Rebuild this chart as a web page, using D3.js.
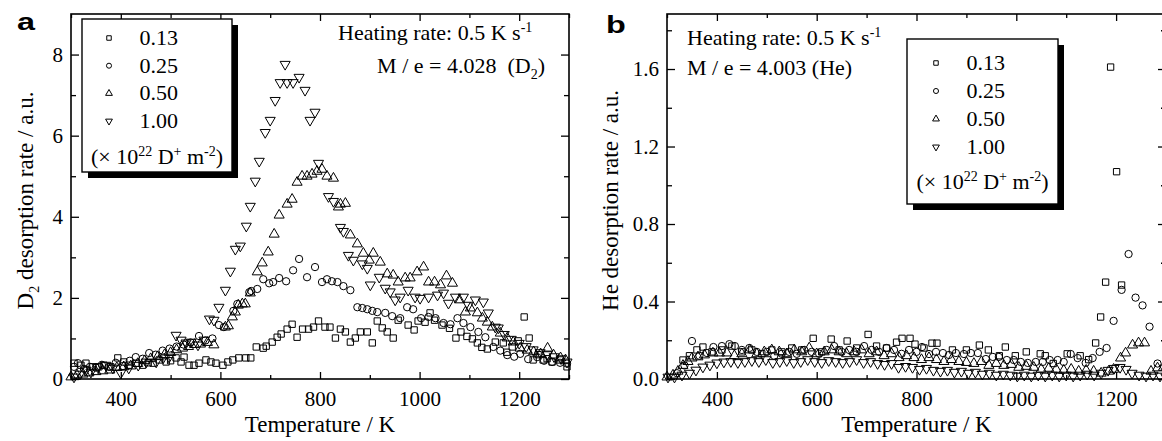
<!DOCTYPE html>
<html>
<head>
<meta charset="utf-8">
<script src="https://cdn.jsdelivr.net/npm/d3@7"></script>
<style>
body { margin: 0; background: #fff; }
svg text { font-family: "Liberation Serif", "Times New Roman", serif; fill: #000; }
.axis text { font-size: 21px; }
.axis line { stroke: #000; stroke-width: 1.3; }
</style>
</head>
<body>
<div id="chart"></div>
<script>
// ---- data, panel a : D2 (M/e = 4.028), [temperature K, rate a.u.]
var a013 = [[306,0.39],[320,0.34],[330,0.39],[344,0.3],[356,0.3],[366,0.34],[380,0.3],[394,0.52],[406,0.42],[416,0.34],[430,0.39],[444,0.34],[455,0.4],[465,0.39],[477,0.47],[491,0.42],[500,0.45],[511,0.52],[521,0.42],[527,0.54],[537,0.34],[547,0.34],[557,0.39],[571,0.47],[581,0.42],[591,0.39],[605,0.34],[615,0.42],[625,0.47],[637,0.52],[651,0.52],[661,0.52],[672,0.79],[686,0.76],[692,0.81],[704,0.91],[714,1.03],[722,1.11],[734,1.23],[744,1.35],[754,1.03],[765,1.23],[777,1.23],[787,1.28],[797,1.43],[810,1.28],[820,1.28],[831,1.01],[841,1.23],[851,1.16],[861,0.91],[871,1.01],[881,1.16],[895,1.16],[905,0.89],[915,1.43],[925,1.26],[935,1.16],[947,1.01],[957,1.45],[977,1.33],[989,1.21],[997,1.43],[1011,1.4],[1021,1.63],[1030,1.45],[1045,1.33],[1060,1.25],[1073,1.01],[1083,1.16],[1095,1.05],[1106,0.99],[1116,0.89],[1125,0.78],[1136,0.74],[1152,0.91],[1168,0.89],[1175,0.66],[1186,0.79],[1198,0.94],[1210,1.53],[1220,1.01],[1228,0.47],[1238,0.6],[1248,0.47],[1256,0.5],[1266,0.42],[1282,0.47],[1296,0.3]];
var a025 = [[306,0.3],[314,0.39],[326,0.25],[338,0.3],[350,0.28],[362,0.35],[376,0.3],[390,0.4],[404,0.32],[418,0.45],[430,0.54],[444,0.5],[457,0.64],[470,0.6],[484,0.7],[498,0.75],[512,0.8],[526,0.85],[540,0.9],[557,1.06],[570,0.95],[584,1.0],[597,1.33],[607,1.28],[626,1.68],[634,1.85],[658,2.14],[662,2.17],[674,2.22],[686,2.46],[698,2.36],[706,2.39],[718,2.49],[732,2.41],[746,2.68],[758,2.96],[774,2.51],[790,2.76],[804,2.39],[814,2.46],[824,2.41],[835,2.39],[847,2.29],[861,2.19],[875,1.77],[885,1.75],[895,1.72],[905,1.68],[915,1.65],[931,1.63],[945,1.55],[961,1.5],[975,1.77],[987,1.72],[1003,1.5],[1018,1.53],[1032,1.5],[1048,1.38],[1062,1.35],[1076,1.5],[1088,1.38],[1102,1.28],[1118,1.16],[1132,1.03],[1148,0.79],[1162,0.7],[1176,0.59],[1190,0.55],[1202,0.62],[1218,0.49],[1236,0.54],[1250,0.45],[1266,0.42],[1282,0.4],[1296,0.38]];
var a050 = [[300,0.05],[312,0.1],[324,0.12],[336,0.15],[350,0.18],[364,0.2],[378,0.22],[392,0.28],[406,0.3],[420,0.32],[434,0.38],[448,0.45],[460,0.5],[474,0.55],[488,0.6],[500,0.65],[512,0.72],[524,0.76],[536,0.8],[548,0.85],[560,0.86],[574,0.9],[587,0.84],[610,1.28],[616,1.31],[624,1.53],[630,1.65],[636,1.82],[644,1.85],[650,1.85],[660,2.12],[674,2.64],[684,2.86],[696,3.13],[708,3.57],[718,4.04],[734,4.31],[744,4.43],[754,4.85],[764,5.0],[774,5.0],[784,5.05],[794,5.12],[804,5.17],[814,5.0],[827,4.95],[837,4.24],[841,4.31],[851,4.33],[861,3.55],[875,3.33],[887,3.1],[899,2.93],[907,3.1],[921,2.88],[935,2.59],[947,2.56],[957,2.39],[971,2.49],[981,2.49],[995,2.64],[1008,2.76],[1018,2.39],[1030,2.39],[1042,2.32],[1054,2.54],[1066,2.36],[1080,1.95],[1092,1.65],[1102,1.75],[1116,1.63],[1126,1.5],[1136,1.4],[1146,1.28],[1162,1.13],[1176,1.01],[1188,0.91],[1202,0.76],[1216,0.71],[1229,0.67],[1243,0.62],[1257,0.76],[1269,0.59],[1283,0.52],[1293,0.47]];
var a100 = [[306,0.05],[318,0.12],[330,0.22],[340,0.17],[354,0.3],[370,0.34],[384,0.27],[400,0.15],[416,0.27],[435,0.34],[451,0.42],[471,0.42],[485,0.52],[497,0.54],[511,1.08],[521,0.96],[531,0.89],[541,0.91],[555,0.84],[567,0.96],[578,1.48],[587,1.45],[597,1.77],[610,2.19],[620,2.66],[630,3.2],[640,3.28],[652,3.77],[660,4.26],[670,4.88],[678,5.37],[690,6.08],[700,6.38],[710,6.87],[720,7.31],[730,7.76],[734,7.31],[746,7.31],[758,7.44],[770,7.12],[780,6.38],[790,6.58],[797,5.32],[817,4.5],[827,4.38],[841,3.74],[847,3.64],[857,3.05],[867,2.93],[885,2.84],[895,2.73],[901,2.32],[919,2.51],[931,2.24],[941,2.15],[951,1.95],[961,2.02],[977,2.19],[991,2.02],[1001,1.99],[1018,2.02],[1036,2.07],[1048,2.12],[1058,1.87],[1072,2.02],[1088,2.02],[1098,1.82],[1112,1.95],[1128,1.9],[1138,1.63],[1152,1.28],[1158,1.26],[1170,1.1],[1184,0.98],[1200,0.88],[1214,0.8],[1228,0.72],[1242,0.65],[1256,0.6],[1270,0.55],[1284,0.5],[1296,0.42]];

// ---- data, panel b : He (M/e = 4.003)
var b013 = [[332,0.098],[345,0.12],[360,0.15],[372,0.165],[390,0.14],[410,0.15],[430,0.17],[450,0.14],[470,0.15],[490,0.13],[510,0.15],[530,0.14],[550,0.16],[570,0.15],[593,0.21],[610,0.14],[629,0.206],[645,0.15],[661,0.196],[680,0.16],[703,0.23],[720,0.17],[740,0.16],[760,0.19],[771,0.21],[787,0.21],[797,0.18],[815,0.16],[831,0.185],[841,0.185],[872,0.15],[900,0.15],[926,0.175],[944,0.15],[966,0.12],[978,0.165],[998,0.12],[1020,0.14],[1048,0.13],[1058,0.12],[1074,0.08],[1102,0.13],[1128,0.12],[1145,0.1],[1159,0.186],[1169,0.32],[1179,0.5],[1189,1.61],[1201,1.07],[1211,0.485]];
var b025 = [[320,0.03],[335,0.07],[350,0.196],[365,0.12],[380,0.134],[393,0.165],[410,0.17],[425,0.18],[436,0.17],[450,0.15],[465,0.16],[480,0.14],[500,0.14],[515,0.12],[530,0.13],[545,0.14],[560,0.13],[575,0.15],[590,0.14],[605,0.13],[620,0.15],[635,0.17],[650,0.14],[665,0.15],[680,0.14],[695,0.17],[710,0.15],[725,0.14],[740,0.16],[755,0.15],[770,0.13],[785,0.15],[800,0.14],[811,0.165],[825,0.129],[839,0.14],[853,0.134],[865,0.124],[879,0.134],[895,0.129],[909,0.134],[923,0.134],[939,0.103],[953,0.114],[965,0.114],[981,0.098],[995,0.098],[1009,0.088],[1023,0.083],[1039,0.088],[1053,0.088],[1067,0.098],[1083,0.098],[1095,0.088],[1109,0.129],[1123,0.108],[1139,0.083],[1153,0.108],[1167,0.14],[1181,0.16],[1195,0.3],[1211,0.46],[1225,0.645],[1239,0.42],[1253,0.38],[1267,0.27],[1283,0.08]];
var b050 = [[300,0.01],[312,0.02],[322,0.04],[332,0.07],[342,0.09],[350,0.108],[362,0.114],[375,0.124],[392,0.134],[405,0.134],[420,0.134],[435,0.12],[450,0.13],[466,0.15],[480,0.13],[495,0.14],[510,0.15],[525,0.14],[540,0.13],[555,0.15],[570,0.14],[585,0.16],[600,0.13],[615,0.14],[630,0.15],[645,0.14],[660,0.13],[675,0.14],[690,0.15],[705,0.13],[720,0.14],[735,0.12],[750,0.13],[765,0.11],[780,0.12],[795,0.11],[810,0.1],[825,0.11],[840,0.1],[855,0.09],[870,0.1],[885,0.09],[900,0.085],[915,0.08],[930,0.09],[945,0.07],[960,0.08],[975,0.07],[990,0.075],[1005,0.06],[1020,0.065],[1035,0.06],[1050,0.05],[1065,0.055],[1080,0.05],[1095,0.045],[1110,0.05],[1125,0.04],[1140,0.045],[1155,0.04],[1170,0.03],[1185,0.04],[1195,0.05],[1209,0.108],[1219,0.134],[1233,0.175],[1245,0.186],[1257,0.186],[1270,0.04],[1283,0.057],[1295,0.06]];
var b100 = [[302,0.01],[315,0.01],[330,0.02],[345,0.03],[358,0.046],[372,0.062],[386,0.072],[400,0.083],[414,0.088],[428,0.09],[442,0.085],[456,0.09],[470,0.095],[484,0.09],[498,0.1],[512,0.085],[526,0.09],[540,0.095],[554,0.085],[568,0.09],[582,0.1],[596,0.09],[610,0.085],[624,0.095],[638,0.09],[652,0.085],[666,0.09],[680,0.1],[694,0.085],[708,0.09],[722,0.08],[736,0.075],[750,0.08],[764,0.06],[778,0.065],[792,0.06],[806,0.05],[820,0.055],[834,0.045],[848,0.04],[862,0.045],[876,0.035],[890,0.04],[904,0.03],[918,0.035],[932,0.025],[946,0.03],[960,0.02],[974,0.025],[988,0.02],[1002,0.015],[1016,0.02],[1030,0.015],[1044,0.02],[1058,0.015],[1072,0.02],[1086,0.015],[1100,0.02],[1114,0.015],[1128,0.02],[1142,0.025],[1156,0.02],[1170,0.03],[1184,0.045],[1196,0.055],[1208,0.06],[1220,0.05],[1232,0.03],[1246,0.02],[1260,0.015],[1274,0.02],[1288,0.015],[1300,0.01]];

var legendLabels = ["0.13", "0.25", "0.50", "1.00"];
var xMajor = [400, 600, 800, 1000, 1200];
var xMinor = [300, 500, 700, 900, 1100, 1300];
var aYMajor = [0, 2, 4, 6, 8];
var aYMinor = [1, 3, 5, 7];
var bYMajor = [0, 0.4, 0.8, 1.2, 1.6];
var bYMinor = [0.2, 0.6, 1.0, 1.4, 1.8];

var svg = d3.select("#chart").append("svg")
    .attr("width", 1162)
    .attr("height", 441);

var shapes = [d3.symbolSquare, d3.symbolCircle, d3.symbolTriangle, d3.symbolTriangle];
var sizes = [40, 42, 44, 44];

// text with sub / superscripts: parts = [[str, "sup"|"sub"|""], ...]
function rich(text, parts, fs) {
    var off = 0;
    parts.forEach(function (p) {
        var target = p[1] == "sup" ? -0.38 * fs : (p[1] == "sub" ? 0.25 * fs : 0);
        var t = text.append("tspan").text(p[0]).attr("dy", target - off);
        if (p[1]) t.style("font-size", Math.round(fs * 0.62) + "px");
        off = target;
    });
}

function marker(sel, i, size) {
    sel.attr("d", d3.symbol().type(shapes[i]).size(size))
        .attr("fill", "none")
        .attr("stroke", "#000")
        .attr("stroke-width", 1);
}

function drawPanel(p) {
    var x = d3.scaleLinear().domain([300, 1300]).range([p.left, p.right]);
    var y = d3.scaleLinear().domain([0, p.yMax]).range([p.bottom, p.top]);
    var g = svg.append("g");

    // ticks, all pointing inwards
    g.append("g").attr("class", "axis").attr("transform", "translate(0," + p.bottom + ")")
        .call(d3.axisBottom(x).tickValues(xMajor).tickSizeInner(-7).tickSizeOuter(0).tickPadding(12).tickFormat(d3.format("d")));
    g.append("g").attr("class", "axis").attr("transform", "translate(0," + p.bottom + ")")
        .call(d3.axisBottom(x).tickValues(xMinor).tickSizeInner(-4).tickSizeOuter(0).tickFormat(""));
    g.append("g").attr("class", "axis").attr("transform", "translate(0," + p.top + ")")
        .call(d3.axisTop(x).tickValues(xMajor).tickSizeInner(-7).tickSizeOuter(0).tickFormat(""));
    g.append("g").attr("class", "axis").attr("transform", "translate(0," + p.top + ")")
        .call(d3.axisTop(x).tickValues(xMinor).tickSizeInner(-4).tickSizeOuter(0).tickFormat(""));
    g.append("g").attr("class", "axis").attr("transform", "translate(" + p.left + ",0)")
        .call(d3.axisLeft(y).tickValues(p.yMajor).tickSizeInner(-8).tickSizeOuter(0).tickPadding(8).tickFormat(p.fmt));
    g.append("g").attr("class", "axis").attr("transform", "translate(" + p.left + ",0)")
        .call(d3.axisLeft(y).tickValues(p.yMinor).tickSizeInner(-5).tickSizeOuter(0).tickFormat(""));
    g.append("g").attr("class", "axis").attr("transform", "translate(" + p.right + ",0)")
        .call(d3.axisRight(y).tickValues(p.yMajor).tickSizeInner(-8).tickSizeOuter(0).tickFormat(""));
    g.append("g").attr("class", "axis").attr("transform", "translate(" + p.right + ",0)")
        .call(d3.axisRight(y).tickValues(p.yMinor).tickSizeInner(-5).tickSizeOuter(0).tickFormat(""));
    g.selectAll(".axis .domain").remove();

    g.append("rect")
        .attr("x", p.left).attr("y", p.top)
        .attr("width", p.right - p.left).attr("height", p.bottom - p.top)
        .attr("fill", "none").attr("stroke", "#000").attr("stroke-width", 1.6);

    // points
    p.series.forEach(function (s, i) {
        g.append("g").selectAll("path")
            .data(s)
            .enter().append("path")
            .call(marker, i, sizes[i])
            .attr("transform", function (d) {
                return "translate(" + x(d[0]) + "," + y(d[1]) + ")" + (i == 3 ? " rotate(180)" : "");
            });
    });

    // axis titles
    g.append("text")
        .attr("x", (p.left + p.right) / 2).attr("y", 432)
        .attr("text-anchor", "middle")
        .style("font-size", "23px")
        .text("Temperature / K");
    var yt = g.append("text")
        .attr("transform", "translate(" + p.yTitleX + "," + ((p.top + p.bottom) / 2 + 4) + ") rotate(-90)")
        .attr("text-anchor", "middle")
        .style("font-size", "23px");
    rich(yt, p.yTitle, 23);

    // panel letter
    g.append("text")
        .attr("transform", "translate(" + p.letterX + "," + p.letterY + ") scale(1.35,1)")
        .style("font-family", "'Liberation Sans', Arial, sans-serif")
        .style("font-weight", "bold")
        .style("font-size", "24px")
        .text(p.letter);

    // legend
    var L = p.legend;
    g.append("rect").attr("x", L.x + 6).attr("y", L.y + 6).attr("width", L.w).attr("height", L.h).attr("fill", "#000");
    g.append("rect").attr("x", L.x).attr("y", L.y).attr("width", L.w).attr("height", L.h)
        .attr("fill", "#fff").attr("stroke", "#000").attr("stroke-width", 1.4);
    legendLabels.forEach(function (lab, i) {
        var cy = L.y + L.row0 + i * L.step;
        g.append("path").call(marker, i, 20)
            .attr("transform", "translate(" + L.symX + "," + cy + ")" + (i == 3 ? " rotate(180)" : ""));
        g.append("text").attr("x", L.textR).attr("y", cy + 7)
            .attr("text-anchor", "end").style("font-size", "22px").text(lab);
    });
    var unit = g.append("text").attr("x", L.x + L.w / 2).attr("y", L.unitY)
        .attr("text-anchor", "middle").style("font-size", "22px");
    rich(unit, [["(\u00d7 10", ""], ["22", "sup"], [" D", ""], ["+", "sup"], [" m", ""], ["-2", "sup"], [")", ""]], 22);

    // annotations
    p.notes.forEach(function (n) {
        var t = g.append("text").attr("x", n.x).attr("y", n.y)
            .attr("text-anchor", n.anchor).style("font-size", "22px");
        rich(t, n.parts, 22);
    });
}

drawPanel({
    left: 71, right: 569, top: 14, bottom: 379,
    yMax: 9, yMajor: aYMajor, yMinor: aYMinor, fmt: d3.format("d"),
    series: [a013, a025, a050, a100],
    yTitleX: 33,
    yTitle: [["D", ""], ["2", "sub"], [" desorption rate / a.u.", ""]],
    letter: "a", letterX: 17, letterY: 30,
    legend: { x: 82, y: 19, w: 150, h: 153, symX: 109, textR: 178, row0: 19, step: 27.7, unitY: 164 },
    notes: [
        { x: 338, y: 40, anchor: "start", parts: [["Heating rate: 0.5 K s", ""], ["-1", "sup"]] },
        { x: 545, y: 73, anchor: "end", parts: [["M / e = 4.028 \u00a0(D", ""], ["2", "sub"], [")", ""]] }
    ]
});

drawPanel({
    left: 667, right: 1166, top: 14, bottom: 379,
    yMax: 1.884, yMajor: bYMajor, yMinor: bYMinor, fmt: d3.format(".1f"),
    series: [b013, b025, b050, b100],
    yTitleX: 618,
    yTitle: [["He desorption rate / a.u.", ""]],
    letter: "b", letterX: 606, letterY: 33,
    legend: { x: 907, y: 39, w: 151, h: 165, symX: 936, textR: 1005, row0: 24, step: 28, unitY: 189 },
    notes: [
        { x: 687, y: 45, anchor: "start", parts: [["Heating rate: 0.5 K s", ""], ["-1", "sup"]] },
        { x: 687, y: 75, anchor: "start", parts: [["M / e = 4.003 (He)", ""]] }
    ]
});
</script>
</body>
</html>
